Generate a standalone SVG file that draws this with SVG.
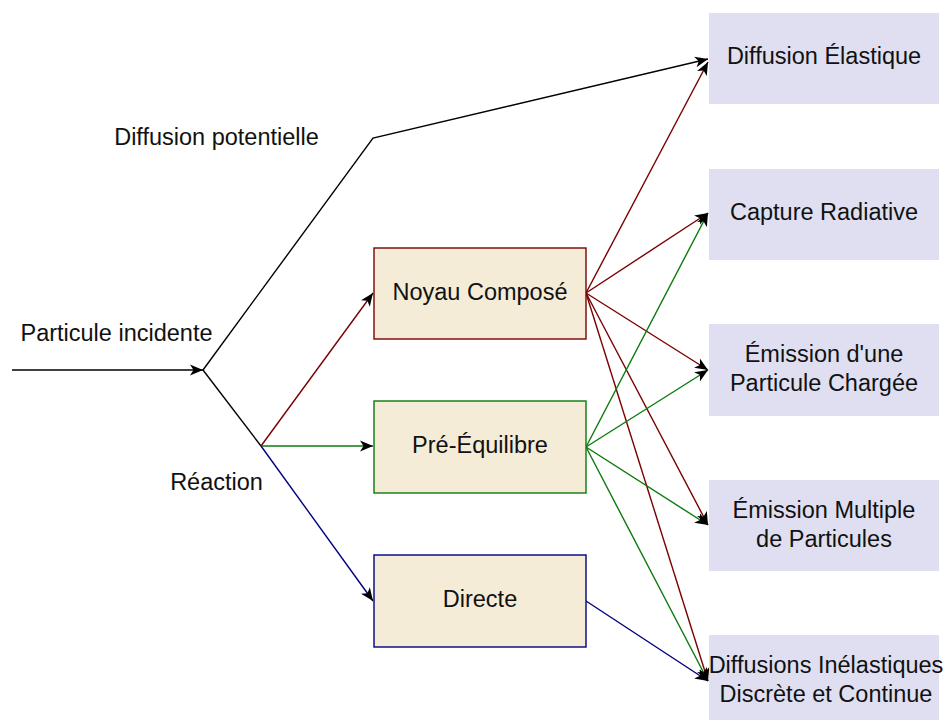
<svg xmlns="http://www.w3.org/2000/svg" width="947" height="720" viewBox="0 0 947 720">
<defs>
<marker id="ah" markerUnits="userSpaceOnUse" markerWidth="14" markerHeight="12" viewBox="0 0 14 12" refX="13" refY="6" orient="auto">
<path d="M0,0.5 L13,6 L0,11.5 L3.5,6 Z" fill="#000"/>
</marker>
<style>
text{font-family:"Liberation Sans",Arial,sans-serif;font-size:23.5px;fill:#111;}
.c{text-anchor:middle;}
.ln{fill:none;stroke-width:1.4;}
.k{stroke:#000;}
.r{stroke:#7a0000;}
.g{stroke:#0b7a0b;}
.b{stroke:#000080;}
.mid{fill:#f5ecd7;stroke-width:1.4;}
.out{fill:#dfdff1;}
</style>
</defs>
<g id="connectors">
<line class="ln k" x1="12" y1="370" x2="203" y2="370" marker-end="url(#ah)"/>
<polyline class="ln k" points="203,370 373,138 708,59" marker-end="url(#ah)"/>
<line class="ln k" x1="203" y1="370" x2="261" y2="446"/>
<line class="ln r" x1="261" y1="446" x2="373" y2="293" marker-end="url(#ah)"/>
<line class="ln g" x1="261" y1="446" x2="373" y2="446" marker-end="url(#ah)"/>
<line class="ln b" x1="261" y1="446" x2="373" y2="601" marker-end="url(#ah)"/>
<line class="ln r" x1="586" y1="293" x2="708" y2="62" marker-end="url(#ah)"/>
<line class="ln r" x1="586" y1="293" x2="708" y2="213" marker-end="url(#ah)"/>
<line class="ln r" x1="586" y1="293" x2="708" y2="370" marker-end="url(#ah)"/>
<line class="ln r" x1="586" y1="293" x2="708" y2="525" marker-end="url(#ah)"/>
<line class="ln r" x1="586" y1="293" x2="708" y2="681" marker-end="url(#ah)"/>
<line class="ln g" x1="586" y1="447" x2="708" y2="213" marker-end="url(#ah)"/>
<line class="ln g" x1="586" y1="447" x2="708" y2="370" marker-end="url(#ah)"/>
<line class="ln g" x1="586" y1="447" x2="708" y2="525" marker-end="url(#ah)"/>
<line class="ln g" x1="586" y1="447" x2="708" y2="681" marker-end="url(#ah)"/>
<line class="ln b" x1="586" y1="601" x2="708" y2="681" marker-end="url(#ah)"/>
</g>
<g id="labels">
<text class="c" x="216.5" y="145">Diffusion potentielle</text>
<text class="c" x="116.5" y="341">Particule incidente</text>
<text class="c" x="216.5" y="490">Réaction</text>
</g>
<g id="noyau">
<rect class="mid" x="374" y="248" width="212" height="91" stroke="#7a0000"/>
<text class="c" x="480" y="299.5">Noyau Composé</text>
</g>
<g id="preequilibre">
<rect class="mid" x="374" y="401" width="212" height="92" stroke="#0b7a0b"/>
<text class="c" x="480" y="453">Pré-Équilibre</text>
</g>
<g id="directe">
<rect class="mid" x="374" y="555" width="212" height="92" stroke="#000080"/>
<text class="c" x="480" y="607">Directe</text>
</g>
<g id="elastique">
<rect class="out" x="709" y="13" width="230" height="91"/>
<text class="c" x="824" y="64">Diffusion Élastique</text>
</g>
<g id="capture">
<rect class="out" x="709" y="169" width="230" height="91"/>
<text class="c" x="824" y="220">Capture Radiative</text>
</g>
<g id="emission1">
<rect class="out" x="709" y="324" width="230" height="92"/>
<text class="c" x="824" y="361.5">Émission d'une</text>
<text class="c" x="824" y="390.5">Particule Chargée</text>
</g>
<g id="emissionmulti">
<rect class="out" x="709" y="480" width="230" height="91"/>
<text class="c" x="824" y="518">Émission Multiple</text>
<text class="c" x="824" y="547">de Particules</text>
</g>
<g id="inelastique">
<rect class="out" x="709" y="635" width="230" height="91"/>
<text class="c" x="826" y="673">Diffusions Inélastiques</text>
<text class="c" x="826" y="702">Discrète et Continue</text>
</g>
</svg>
